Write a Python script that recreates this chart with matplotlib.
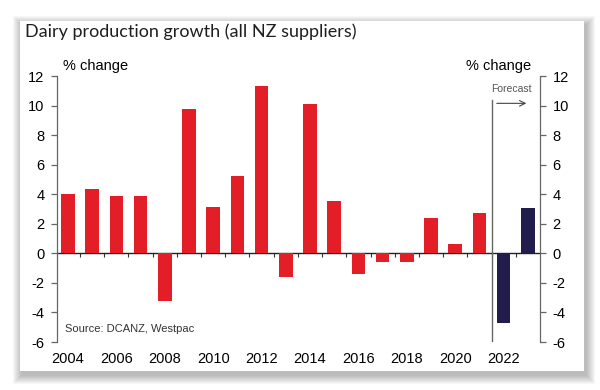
import matplotlib.pyplot as plt
from matplotlib.patches import Rectangle

# data
years = list(range(2004, 2024))
growth = [4.0, 4.35, 3.85, 3.85, -3.2, 9.8, 3.15, 5.2, 11.3, -1.6,
          10.1, 3.55, -1.4, -0.6, -0.6, 2.4, 0.65, 2.7, -4.7, 3.05]
is_forecast = [False] * 18 + [True] * 2
year_labels = [str(y) for y in range(2004, 2023, 2)]
yticks = list(range(-6, 13, 2))

RED = "#e31e26"
NAVY = "#211c4c"
GREY = "#666666"

plt.rcParams["font.family"] = ["Liberation Sans", "DejaVu Sans"]

fig = plt.figure(figsize=(6, 3.9), dpi=100)
W, H = 600, 390

# card with a soft shadow
cx0, cx1, cy0, cy1 = 20, 584, 21, 371
for k in range(9, 0, -1):
    fig.patches.append(Rectangle(((cx0 - k + 2) / W, (H - cy1 - k - 4) / H),
                                 (cx1 - cx0 + 2 * k) / W, (cy1 - cy0 + 2 * k) / H,
                                 transform=fig.transFigure, color="black",
                                 alpha=0.03, lw=0, zorder=0))
fig.patches.append(Rectangle((cx0 / W, (H - cy1) / H), (cx1 - cx0) / W,
                             (cy1 - cy0) / H, transform=fig.transFigure,
                             color="white", lw=0, zorder=1))

ax = fig.add_axes([57 / W, (H - 342) / H, (540 - 57) / W, (342 - 76) / H])
ax.set_zorder(2)
ax.patch.set_alpha(0)

x = list(range(len(years)))
colors = [NAVY if f else RED for f in is_forecast]
ax.bar(x, growth, width=0.56, color=colors, zorder=3)

ax.set_xlim(-0.45, 19.5)
ax.set_ylim(-6, 12)
ax.set_yticks(yticks)
ax.set_yticklabels([str(t) for t in yticks])
ax.set_xticks([years.index(int(l)) for l in year_labels])
ax.set_xticklabels(year_labels)

for s in ["top", "bottom"]:
    ax.spines[s].set_visible(False)
for s in ["left", "right"]:
    ax.spines[s].set_color(GREY)
    ax.spines[s].set_linewidth(0.9)

ax.tick_params(axis="y", direction="out", length=4, width=0.9, color=GREY,
               labelsize=10.5, pad=5, right=True, labelright=True)
ax.tick_params(axis="x", length=0, labelsize=10.5, pad=7)

# zero line with small ticks between bars
zero = ax.secondary_xaxis(6 / 18)
zero.set_xticks([i + 0.5 for i in x[:-1]])
zero.set_xticklabels([])
zero.tick_params(direction="out", length=3, width=0.8, color="#333333")
zero.spines["bottom"].set_color("#222222")
zero.spines["bottom"].set_linewidth(1.0)

# forecast marker
ax.plot([17.5, 17.5], [-6, 10.4], color=GREY, lw=1.0, zorder=4)
ax.annotate("", xy=(19.05, 10.15), xytext=(17.6, 10.15),
            arrowprops=dict(arrowstyle="->", color="#444444", lw=0.8))
ax.text(18.3, 11.1, "Forecast", ha="center", va="center", fontsize=7.5,
        color="#555555")

ax.text(0.017, -5.1, "Source: DCANZ, Westpac", fontsize=8, color="#333333",
        va="center", ha="left", transform=ax.get_yaxis_transform())

fig.text(63 / W, 1 - 66 / H, "% change", fontsize=10.5, va="center", ha="left")
fig.text(531 / W, 1 - 66 / H, "% change", fontsize=10.5, va="center", ha="right")
fig.text(25 / W, 1 - 32 / H, "Dairy production growth (all NZ suppliers)",
         fontsize=13, va="center", ha="left", color="#1e1e1e",
         family=["Lato", "DejaVu Sans"])

fig.savefig("out.png", dpi=100, facecolor="white")
